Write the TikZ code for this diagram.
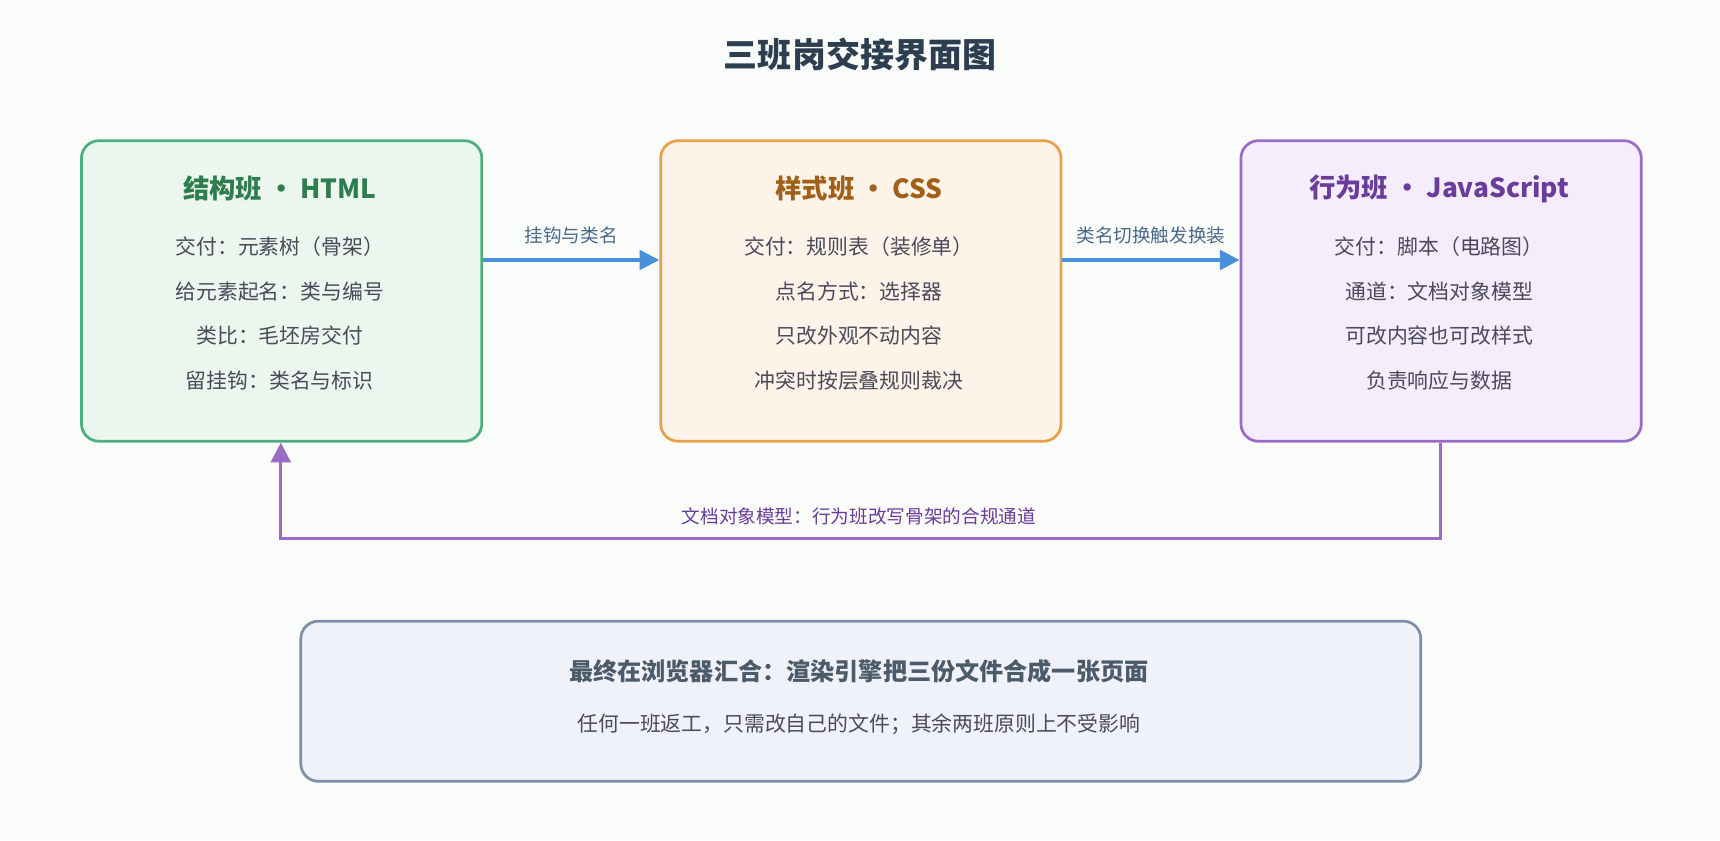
\documentclass[tikz,border=0pt]{standalone}
\usepackage{fontspec}
\setmainfont{Noto Sans CJK SC}
\usetikzlibrary{arrows.meta}
\definecolor{bg}{HTML}{FAFCFA}
\definecolor{ttl}{HTML}{2C3E50}
\definecolor{gB}{HTML}{4CAF7D}\definecolor{gF}{HTML}{EBF7EE}\definecolor{gT}{HTML}{2E7D4F}
\definecolor{oB}{HTML}{E8A04A}\definecolor{oF}{HTML}{FEF3E8}\definecolor{oT}{HTML}{A0601A}
\definecolor{pB}{HTML}{9B6CC6}\definecolor{pF}{HTML}{F5ECFC}\definecolor{pT}{HTML}{6A3D9A}
\definecolor{sB}{HTML}{7F8FA6}\definecolor{sF}{HTML}{EFF2F8}
\definecolor{txt}{HTML}{4A4A5A}
\definecolor{blu}{HTML}{4A90D9}\definecolor{bluT}{HTML}{4A6A8A}
\begin{document}
\begin{tikzpicture}[x=1pt,y=-1pt,
 box/.style={draw,line width=2.5pt,rounded corners=16pt,minimum width=365pt,minimum height=274pt,anchor=north west},
 body/.style={font=\fontsize{19}{22}\selectfont,text=txt},
 head/.style={font=\fontsize{24}{28}\selectfont\bfseries},
 lab/.style={font=\fontsize{17}{20}\selectfont},
 arr/.style={line width=3pt,-{Triangle[length=18pt,width=18pt]}}]
\fill[bg] (0,0) rectangle (1568,766);
\useasboundingbox (0,0) rectangle (1568,766);
\node[font=\fontsize{31}{36}\selectfont\bfseries,text=ttl] (title) at (784,50) {三班岗交接界面图};
\node[box,draw=gB,fill=gF] (b1) at (73,127) {};
\node[box,draw=oB,fill=oF] (b2) at (601,127) {};
\node[box,draw=pB,fill=pF] (b3) at (1130,127) {};
\node[head,text=gT] (h1) at (255,172) {结构班 • HTML};
\node[body] (t11) at (255,225) {交付：元素树（骨架）};
\node[body] (t12) at (255,266) {给元素起名：类与编号};
\node[body] (t13) at (255,306) {类比：毛坯房交付};
\node[body] (t14) at (255,347) {留挂钩：类名与标识};
\node[head,text=oT] (h2) at (783,172) {样式班 • CSS};
\node[body] (t21) at (783,225) {交付：规则表（装修单）};
\node[body] (t22) at (783,266) {点名方式：选择器};
\node[body] (t23) at (783,306) {只改外观不动内容};
\node[body] (t24) at (783,347) {冲突时按层叠规则裁决};
\node[head,text=pT] (h3) at (1312,172) {行为班 • JavaScript};
\node[body] (t31) at (1312,225) {交付：脚本（电路图）};
\node[body] (t32) at (1312,266) {通道：文档对象模型};
\node[body] (t33) at (1312,306) {可改内容也可改样式};
\node[body] (t34) at (1312,347) {负责响应与数据};
\draw[arr,blu] (b1.east |- 0,237) -- (b2.west |- 0,237) node[midway,above=10pt,lab,text=bluT] {挂钩与类名};
\draw[arr,blu] (b2.east |- 0,237) -- (b3.west |- 0,237) node[midway,above=10pt,lab,text=bluT] {类名切换触发换装};
\coordinate (c1) at (1313,491);
\coordinate (c2) at (256,491);
\draw[line width=3pt,pB,-{Triangle[length=18pt,width=18pt]}] (b3.south -| 1313,0) -- (c1) -- (c2) -- (b1.south -| 256,0);
\node[lab,text=pT] (fl) at (783,471) {文档对象模型：行为班改写骨架的合规通道};
\node[draw=sB,fill=sF,line width=2.5pt,rounded corners=16pt,minimum width=1021pt,minimum height=146pt,anchor=north west] (b4) at (273,565) {};
\node[font=\fontsize{22}{26}\selectfont\bfseries,text=ttl!85] (h4) at (783,612) {最终在浏览器汇合：渲染引擎把三份文件合成一张页面};
\node[body] (t4) at (783,660) {任何一班返工，只需改自己的文件；其余两班原则上不受影响};
\end{tikzpicture}
\end{document}
